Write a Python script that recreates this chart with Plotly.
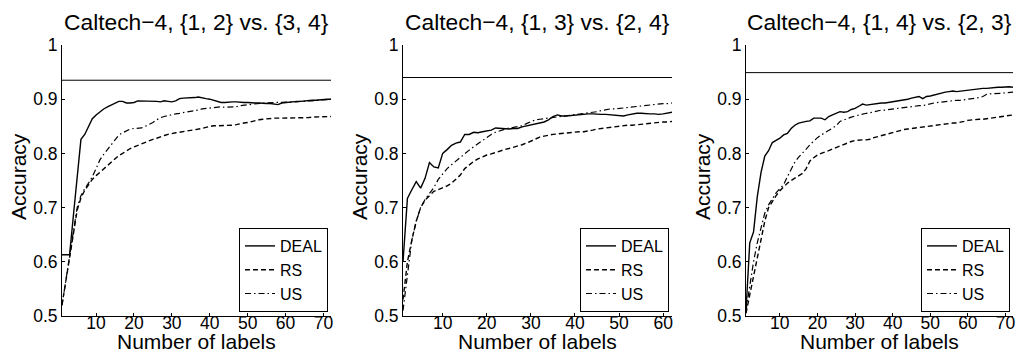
import plotly.graph_objects as go

# ---------------- data ----------------
titles = ["Caltech\u22124, {1, 2} vs. {3, 4}",
          "Caltech\u22124, {1, 3} vs. {2, 4}",
          "Caltech\u22124, {1, 4} vs. {2, 3}"]
upper = [0.935, 0.940, 0.949]          # horizontal reference level per panel
x_max = [72, 62, 72]

labels1 = list(range(1, 73))
labels2 = list(range(1, 63))
labels3 = list(range(1, 73))

deal1 = [0.613, 0.613, 0.613, 0.685, 0.760, 0.826, 0.835, 0.850, 0.864, 0.871,
         0.877, 0.882, 0.886, 0.889, 0.892, 0.896, 0.896, 0.893, 0.893, 0.894,
         0.897, 0.897, 0.896, 0.897, 0.896, 0.896, 0.895, 0.897, 0.896, 0.895,
         0.897, 0.901, 0.902, 0.902, 0.903, 0.903, 0.904, 0.902, 0.901, 0.900,
         0.898, 0.896, 0.894, 0.894, 0.895, 0.895, 0.895, 0.894, 0.894, 0.894,
         0.893, 0.893, 0.893, 0.892, 0.892, 0.892, 0.891, 0.890, 0.893, 0.894,
         0.894, 0.895, 0.896, 0.896, 0.897, 0.897, 0.898, 0.898, 0.899, 0.900,
         0.900, 0.900]
rs1 = [0.520, 0.565, 0.610, 0.655, 0.695, 0.718, 0.732, 0.742, 0.752, 0.759,
       0.765, 0.771, 0.777, 0.784, 0.790, 0.796, 0.800, 0.805, 0.809, 0.812,
       0.815, 0.818, 0.821, 0.824, 0.826, 0.828, 0.831, 0.833, 0.835, 0.837,
       0.838, 0.839, 0.840, 0.841, 0.842, 0.843, 0.844, 0.846, 0.848, 0.850,
       0.851, 0.851, 0.851, 0.851, 0.852, 0.852, 0.853, 0.855, 0.856, 0.857,
       0.859, 0.861, 0.862, 0.863, 0.864, 0.865, 0.865, 0.865, 0.865, 0.865,
       0.865, 0.865, 0.866, 0.866, 0.866, 0.866, 0.867, 0.867, 0.867, 0.868,
       0.868, 0.868]
us1 = [0.520, 0.565, 0.610, 0.660, 0.700, 0.722, 0.735, 0.745, 0.757, 0.772,
       0.788, 0.798, 0.806, 0.816, 0.825, 0.834, 0.838, 0.842, 0.845, 0.846,
       0.846, 0.847, 0.850, 0.853, 0.857, 0.862, 0.866, 0.868, 0.870, 0.872,
       0.873, 0.874, 0.875, 0.876, 0.877, 0.878, 0.880, 0.882, 0.883, 0.884,
       0.885, 0.886, 0.886, 0.885, 0.885, 0.885, 0.886, 0.888, 0.889, 0.890,
       0.891, 0.892, 0.893, 0.893, 0.893, 0.894, 0.894, 0.894, 0.894, 0.894,
       0.894, 0.895, 0.895, 0.896, 0.896, 0.897, 0.897, 0.898, 0.898, 0.899,
       0.899, 0.900]

deal2 = [0.600, 0.717, 0.733, 0.748, 0.736, 0.754, 0.783, 0.775, 0.773, 0.800,
         0.807, 0.815, 0.819, 0.821, 0.835, 0.835, 0.839, 0.838, 0.840, 0.841,
         0.843, 0.847, 0.846, 0.845, 0.845, 0.846, 0.846, 0.849, 0.851, 0.853,
         0.855, 0.857, 0.858, 0.862, 0.868, 0.871, 0.869, 0.869, 0.870, 0.870,
         0.871, 0.872, 0.873, 0.873, 0.872, 0.872, 0.872, 0.871, 0.871, 0.870,
         0.869, 0.871, 0.873, 0.874, 0.874, 0.873, 0.873, 0.873, 0.872, 0.873,
         0.875, 0.876]
rs2 = [0.530, 0.600, 0.640, 0.675, 0.700, 0.714, 0.722, 0.730, 0.733, 0.736,
       0.740, 0.745, 0.752, 0.760, 0.772, 0.779, 0.785, 0.790, 0.794, 0.797,
       0.799, 0.802, 0.804, 0.807, 0.809, 0.811, 0.813, 0.816, 0.819, 0.823,
       0.827, 0.830, 0.832, 0.834, 0.835, 0.836, 0.837, 0.837, 0.838, 0.839,
       0.840, 0.840, 0.841, 0.843, 0.845, 0.846, 0.848, 0.849, 0.850, 0.851,
       0.851, 0.852, 0.852, 0.853, 0.854, 0.854, 0.855, 0.856, 0.857, 0.858,
       0.858, 0.859]
us2 = [0.510, 0.580, 0.640, 0.675, 0.700, 0.715, 0.725, 0.737, 0.752, 0.763,
       0.772, 0.779, 0.786, 0.792, 0.800, 0.806, 0.812, 0.818, 0.824, 0.829,
       0.835, 0.839, 0.842, 0.845, 0.847, 0.848, 0.849, 0.851, 0.855, 0.859,
       0.862, 0.863, 0.864, 0.865, 0.866, 0.867, 0.868, 0.869, 0.870, 0.871,
       0.872, 0.873, 0.874, 0.876, 0.877, 0.879, 0.881, 0.882, 0.882, 0.883,
       0.883, 0.884, 0.885, 0.886, 0.887, 0.888, 0.889, 0.890, 0.891, 0.892,
       0.892, 0.893]

deal3 = [0.510, 0.635, 0.655, 0.720, 0.765, 0.795, 0.805, 0.820, 0.824, 0.828,
         0.834, 0.837, 0.846, 0.852, 0.856, 0.858, 0.859, 0.860, 0.865, 0.865,
         0.865, 0.862, 0.868, 0.871, 0.874, 0.877, 0.876, 0.877, 0.881, 0.883,
         0.887, 0.891, 0.889, 0.890, 0.892, 0.893, 0.893, 0.893, 0.894, 0.895,
         0.896, 0.897, 0.899, 0.900, 0.902, 0.904, 0.905, 0.901, 0.905, 0.906,
         0.908, 0.909, 0.911, 0.913, 0.914, 0.915, 0.914, 0.915, 0.916, 0.917,
         0.918, 0.918, 0.919, 0.920, 0.920, 0.921, 0.921, 0.922, 0.922, 0.923,
         0.923, 0.922]
rs3 = [0.505, 0.540, 0.575, 0.610, 0.645, 0.675, 0.700, 0.712, 0.722, 0.731,
       0.739, 0.745, 0.750, 0.754, 0.758, 0.763, 0.772, 0.786, 0.792, 0.797,
       0.800, 0.802, 0.805, 0.808, 0.811, 0.814, 0.817, 0.820, 0.822, 0.824,
       0.825, 0.825, 0.825, 0.826, 0.829, 0.831, 0.833, 0.835, 0.837, 0.839,
       0.841, 0.843, 0.844, 0.845, 0.846, 0.846, 0.847, 0.848, 0.849, 0.850,
       0.851, 0.853, 0.854, 0.855, 0.855, 0.856, 0.856, 0.857, 0.859, 0.861,
       0.862, 0.862, 0.863, 0.863, 0.864, 0.865, 0.867, 0.868, 0.869, 0.870,
       0.870, 0.871]
us3 = [0.510, 0.560, 0.600, 0.635, 0.665, 0.690, 0.705, 0.716, 0.727, 0.735,
       0.742, 0.757, 0.772, 0.784, 0.793, 0.800, 0.808, 0.816, 0.823, 0.829,
       0.834, 0.838, 0.842, 0.846, 0.851, 0.859, 0.862, 0.864, 0.867, 0.869,
       0.871, 0.873, 0.874, 0.875, 0.877, 0.878, 0.880, 0.880, 0.881, 0.882,
       0.883, 0.884, 0.885, 0.886, 0.886, 0.887, 0.888, 0.888, 0.890, 0.892,
       0.893, 0.894, 0.895, 0.896, 0.897, 0.897, 0.898, 0.898, 0.899, 0.899,
       0.900, 0.901, 0.903, 0.905, 0.909, 0.910, 0.910, 0.911, 0.911, 0.912,
       0.912, 0.913]

series_names = ["DEAL", "RS", "US"]
y_tickvals = [0.5, 0.6, 0.7, 0.8, 0.9, 1.0]
y_ticktext = ["0.5", "0.6", "0.7", "0.8", "0.9", "1"]
x_tickvals = [10, 20, 30, 40, 50, 60, 70]
x_title = "Number of labels"
y_title = "Accuracy"

# ---------------- layout geometry (pixels) ----------------
W, H = 1016, 356
panels_px = [(62, 331), (403, 672), (746, 1013)]
y_top_px, y_bot_px = 45, 316
FONT = "Liberation Sans, Arial, Helvetica, sans-serif"

def px_x(p):
    return p / W

def px_y(p):
    return (H - p) / H

panel_x = [labels1, labels2, labels3]
panel_data = [(deal1, rs1, us1), (deal2, rs2, us2), (deal3, rs3, us3)]
styles = [dict(color="black", width=1.4),
          dict(color="black", width=1.4, dash="5px,3px"),
          dict(color="black", width=1.2, dash="6px,3px,1.5px,3px")]

fig = go.Figure()
layout = dict(template="none", width=W, height=H, autosize=False,
              margin=dict(l=0, r=0, t=0, b=0, pad=0, autoexpand=False),
              paper_bgcolor="white", plot_bgcolor="white",
              font=dict(family=FONT, color="black", size=17.5),
              showlegend=True, annotations=[])

for i in range(3):
    sfx = "" if i == 0 else str(i + 1)
    xa, ya = "x" + sfx, "y" + sfx
    lg = "legend" + sfx
    xs = panel_x[i]
    # reference level
    fig.add_trace(go.Scatter(x=[1, x_max[i]], y=[upper[i], upper[i]], mode="lines",
                             line=dict(color="black", width=1), showlegend=False,
                             hoverinfo="skip", xaxis=xa, yaxis=ya))
    for name, ys, st in zip(series_names, panel_data[i], styles):
        fig.add_trace(go.Scatter(x=xs, y=ys, mode="lines", name=name, line=st,
                                 xaxis=xa, yaxis=ya, legend=lg))
    x0, x1 = panels_px[i]
    layout["xaxis" + sfx] = dict(domain=[px_x(x0), px_x(x1)], range=[1, x_max[i]],
                                 anchor=ya, tickvals=[v for v in x_tickvals if v <= x_max[i]],
                                 ticks="inside", ticklen=3, tickcolor="black",
                                 showline=True, linecolor="black", linewidth=1,
                                 showgrid=False, zeroline=False, mirror=False,
                                 automargin=False, ticklabelstandoff=-9,
                                 tickfont=dict(size=17.5))
    layout["yaxis" + sfx] = dict(domain=[px_y(y_bot_px), px_y(y_top_px)], range=[0.5, 1.0],
                                 anchor=xa, tickvals=y_tickvals, ticktext=y_ticktext,
                                 ticks="inside", ticklen=3, tickcolor="black",
                                 showline=True, linecolor="black", linewidth=1,
                                 showgrid=False, zeroline=False, mirror=False,
                                 automargin=False, tickfont=dict(size=17.5))
    layout[lg] = dict(x=px_x(x1 - 3), y=px_y(y_bot_px - 4), xanchor="right", yanchor="bottom",
                      bgcolor="white", bordercolor="black", borderwidth=1,
                      font=dict(size=16), itemwidth=30, tracegroupgap=0)
    cx = (x0 + x1) / 2
    layout["annotations"].append(dict(text=titles[i], x=px_x(cx), y=px_y(22), xref="paper",
                                      yref="paper", showarrow=False, xanchor="center",
                                      yanchor="middle", font=dict(size=22.8)))
    layout["annotations"].append(dict(text=x_title, x=px_x(cx), y=px_y(341), xref="paper",
                                      yref="paper", showarrow=False, xanchor="center",
                                      yanchor="middle", font=dict(size=21)))
    layout["annotations"].append(dict(text=y_title, x=px_x(x0 - 44), y=px_y(177), xref="paper",
                                      yref="paper", showarrow=False, xanchor="center",
                                      yanchor="middle", textangle=-90, font=dict(size=21)))

fig.update_layout(**layout)
fig.write_html("out.html")
